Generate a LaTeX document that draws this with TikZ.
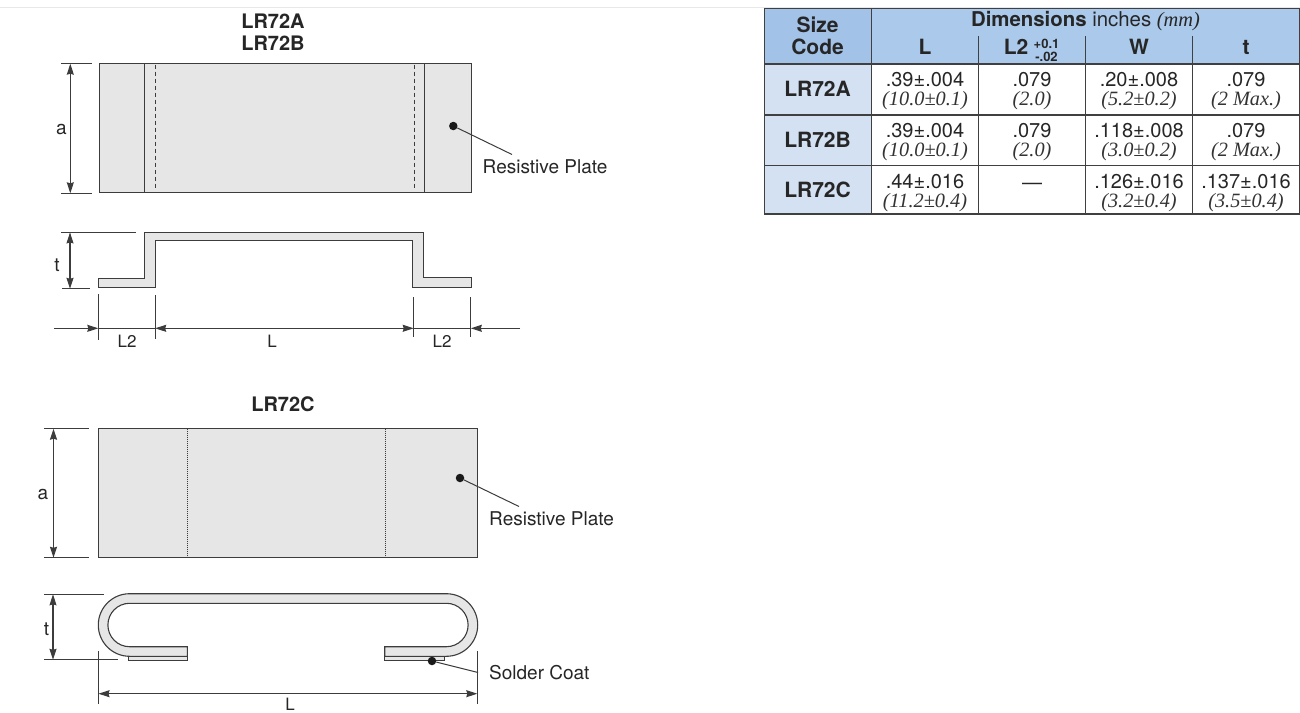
\documentclass[tikz,border=0pt]{standalone}
\usepackage{fontspec}
\setmainfont{TeX Gyre Heros}
\newfontfamily\mmfont{Liberation Serif}
\usetikzlibrary{arrows.meta}
\definecolor{plategray}{HTML}{E6E6E6}
\definecolor{inkgray}{HTML}{3C3C3C}
\definecolor{headblue}{HTML}{ABC9EA}
\definecolor{sizeblue}{HTML}{A2C2E7}
\definecolor{rowblue}{HTML}{D3E1F3}
\begin{document}
\begin{tikzpicture}[
			x=1pt,y=-1pt,
			plate/.style={draw=inkgray,fill=plategray,line width=1.1pt},
			fold/.style={draw=inkgray,line width=1.1pt},
			dim/.style={draw=inkgray,line width=1.1pt,{Stealth[length=11pt,width=7pt,inset=1pt]}-{Stealth[length=11pt,width=7pt,inset=1pt]}},
			dimleft/.style={draw=inkgray,line width=1.1pt,-{Stealth[length=11pt,width=7pt,inset=1pt]}},
			tick/.style={draw=inkgray,line width=1pt},
			leader/.style={draw=inkgray,line width=1pt},
			dotmark/.style={circle,fill=black!90,inner sep=0pt,minimum size=8.5pt},
			title/.style={anchor=base,inner sep=0pt,font=\fontsize{20}{22}\selectfont\bfseries,text=black!85},
			lab/.style={anchor=base,inner sep=0pt,font=\fontsize{19}{22}\selectfont,text=black!85},
			note/.style={lab,anchor=base west},
			rule/.style={draw=black!75,line width=1.1pt},
			val/.style={anchor=base,inner sep=0pt,font=\fontsize{20}{22}\selectfont,text=black!85},
			mm/.style={anchor=base,inner sep=0pt,font=\fontsize{20.3}{22}\selectfont\mmfont\itshape,text=black!80}
		]
		\useasboundingbox (0,0) rectangle (1300,712);
		\draw[black!9,line width=1pt] (0,7.5) -- (1300,7.5);

		% LR72A and LR72B
		\node[title] (titleA) at (273,28) {LR72A};
		\node[title] (titleB) at (273,50) {LR72B};
		\draw[plate] (99.3,63.7) rectangle (471.5,192.7);
		\draw[fold] (144.7,63.7) -- (144.7,192.7) (424.3,63.7) -- (424.3,192.7);
		\draw[fold,line width=1pt,dash pattern=on 4pt off 3pt] (155.3,64.5) -- (155.3,190) (414,64.5) -- (414,190);
		\coordinate (aTopA) at (70.3,63.7);
		\coordinate (aBotA) at (70.3,193.3);
		\draw[tick] (61.3,63.7) -- (92,63.7) (61,193.3) -- (92,193.3);
		\draw[dim] (aTopA) -- (aBotA);
		\node[lab] (aLabA) at (61.5,134) {a};
		\node[dotmark] (plateA) at (453.3,126) {};
		\coordinate (plateEndA) at (512,154.5);
		\draw[leader] (plateA) -- (plateEndA);
		\node[note] (plateTextA) at (482.5,173.7) {Resistive Plate};

		% side view
		\draw[plate] (98.9,278.3) -- (144.2,278.3) -- (144.2,232.4) -- (423.7,232.4) -- (423.7,277.8) -- (471.5,277.8) -- (471.5,287.8) -- (412.9,287.8) -- (412.9,240.2) -- (155.7,240.2) -- (155.7,287.8) -- (98.9,287.8) -- cycle;
		\coordinate (tTopA) at (70,232.4);
		\coordinate (tBotA) at (70,288.8);
		\draw[tick] (61,232.4) -- (135.7,232.4) (62,288.8) -- (89.7,288.8);
		\draw[dim] (tTopA) -- (tBotA);
		\node[lab] (tLabA) at (57,271) {t};
		\coordinate (l2a) at (98.3,328.3);
		\coordinate (l2b) at (155.2,328.3);
		\coordinate (l2c) at (413.7,328.3);
		\coordinate (l2d) at (470.8,328.3);
		\coordinate (l2start) at (54,328.3);
		\coordinate (l2end) at (520,328.3);
		\draw[tick] (98.3,294) -- (98.3,339.5) (155.2,295) -- (155.2,339) (413.7,297) -- (413.7,337) (470.8,297) -- (470.8,337);
		\draw[tick] (l2a) -- (l2b) (l2c) -- (l2d);
		\draw[dimleft] (l2start) -- (l2a);
		\draw[dim] (l2b) -- (l2c);
		\draw[dimleft] (l2end) -- (l2d);
		\node[lab,font=\fontsize{17}{20}\selectfont] (l2LabA) at (127,347) {L2};
		\node[lab,font=\fontsize{17}{20}\selectfont] (lLabA) at (272,347) {L};
		\node[lab,font=\fontsize{17}{20}\selectfont] (l2LabB) at (442,347) {L2};

		% LR72C
		\node[title] (titleC) at (283,411) {LR72C};
		\draw[plate] (98.7,428.7) rectangle (477.7,557.8);
		\draw[fold,line width=1pt,dash pattern=on 1pt off 1pt] (187,428.7) -- (187,557.8) (385,428.7) -- (385,557.8);
		\coordinate (aTopC) at (53.5,428.7);
		\coordinate (aBotC) at (53.5,557.8);
		\draw[tick] (44,428.7) -- (89,428.7) (44,557.8) -- (89,557.8);
		\draw[dim] (aTopC) -- (aBotC);
		\node[lab] (aLabC) at (43,499) {a};
		\node[dotmark] (plateC) at (460,478) {};
		\coordinate (plateEndC) at (519,506.5);
		\draw[leader] (plateC) -- (plateEndC);
		\node[note] (plateTextC) at (489,525.3) {Resistive Plate};

		% side view, wrapped
		\draw[fold,fill=plategray,line width=1pt] (128,656.3) rectangle (187.3,660);
		\draw[fold,fill=plategray,line width=1pt] (384.7,656.3) rectangle (444,660);
		\draw[plate] (187.3,656.3) -- (129.6,656.3) arc[start angle=90,end angle=270,radius=31.3] -- (446.4,593.7) arc[start angle=-90,end angle=90,radius=31.3] -- (384.7,656.3) -- (384.7,646.7) -- (446.4,646.7) arc[start angle=90,end angle=-90,radius=21.7] -- (129.6,603.3) arc[start angle=270,end angle=90,radius=21.7] -- (187.3,646.7) -- cycle;
		\coordinate (tTopC) at (53,594.3);
		\coordinate (tBotC) at (53,659.8);
		\draw[tick] (44,594.3) -- (103.5,594.3) (44,659.8) -- (117.5,659.8);
		\draw[dim] (tTopC) -- (tBotC);
		\node[lab] (tLabC) at (46.5,635.5) {t};
		\coordinate (lLeft) at (98.5,693.7);
		\coordinate (lRight) at (477.3,693.7);
		\draw[tick] (98.5,651) -- (98.5,704) (477.3,651) -- (477.3,704);
		\draw[dim] (lLeft) -- (lRight);
		\node[lab,font=\fontsize{17}{20}\selectfont] (lLabC) at (290,710) {L};
		\node[dotmark] (solder) at (432,661) {};
		\coordinate (solderEnd) at (478,672.5);
		\draw[leader] (solder) -- (solderEnd);
		\node[note] (solderText) at (489,679) {Solder Coat};

		% table
		\fill[headblue] (871.7,8.7) rectangle (1299.3,64);
		\fill[sizeblue] (764.7,8.7) rectangle (871.7,64);
		\fill[rowblue] (764.7,64) rectangle (871.7,214);
		\draw[rule] (764.7,8.7) rectangle (1299.3,214);
		\draw[rule] (871.7,8.7) -- (871.7,214);
		\foreach \ypos in {64,115,165.5} {
				\draw[rule] (764.7,\ypos) -- (1299.3,\ypos);
			}
		\foreach \xpos in {978.7,1085.3,1192.7} {
				\draw[rule] (\xpos,36) -- (\xpos,214);
			}
		\node[title,font=\fontsize{21}{22}\selectfont\bfseries] (sizeHead) at (817.5,32.3) {Size};
		\node[title,font=\fontsize{21}{22}\selectfont\bfseries] (codeHead) at (817.5,54.3) {Code};
		\node[title,font=\fontsize{20.4}{22}\selectfont] (dimHead) at (1085.5,27) {\textbf{Dimensions} inches {\mmfont\itshape (mm)}};
		\foreach \cname/\cx/\ctext in {lHead/925/L,l2Head/1016/L2,wHead/1139/W,tHead/1246/t} {
				\node[title,font=\fontsize{21}{22}\selectfont\bfseries] (\cname) at (\cx,54.3) {\ctext};
			}
		\node[title,font=\fontsize{13}{14}\selectfont\bfseries] (plusTol) at (1046.5,48.5) {+0.1};
		\node[title,font=\fontsize{13}{14}\selectfont\bfseries] (minusTol) at (1046.5,61) {-.02};
		\foreach \cname/\ypos/\ctext in {rowA/96.3/LR72A,rowB/147/LR72B,rowC/197.3/LR72C} {
				\node[title,font=\fontsize{21}{22}\selectfont\bfseries] (\cname) at (817.5,\ypos) {\ctext};
			}
		\foreach \cname/\cx/\ypos/\cval/\cmm in {
				la/925/86/.39±.004/(10.0±0.1),
				lb/925/137/.39±.004/(10.0±0.1),
				lc/925/188/.44±.016/(11.2±0.4),
				l2a/1032/86/.079/(2.0),
				l2b/1032/137/.079/(2.0),
				wa/1139/86/.20±.008/(5.2±0.2),
				wb/1139/137/.118±.008/(3.0±0.2),
				wc/1139/188/.126±.016/(3.2±0.4),
				ta/1246/86/.079/(2 Max.),
				tb/1246/137/.079/(2 Max.),
				tc/1246/188/.137±.016/(3.5±0.4)
			} {
				\node[val] (\cname val) at (\cx,\ypos) {\cval};
				\node[mm] (\cname mm) at (\cx,\ypos+19.5) {\cmm};
			}
		\node[val] (l2cval) at (1032,189) {---};
	\end{tikzpicture}
\end{document}
